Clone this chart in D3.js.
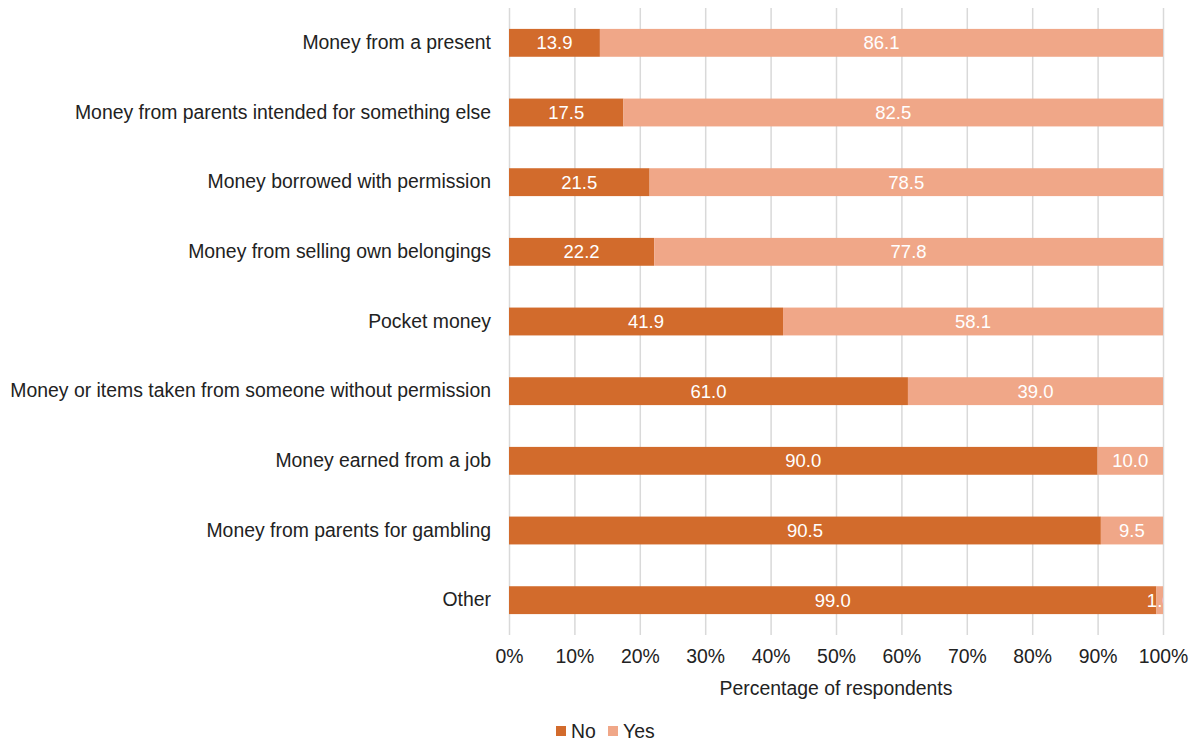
<!DOCTYPE html>
<html><head><meta charset="utf-8">
<script src="https://cdn.jsdelivr.net/npm/d3@7"></script>
<style>body{margin:0;background:#fff}svg{display:block}text{font-family:"Liberation Sans",Arial,sans-serif}</style>
</head><body><svg id="c" width="1196" height="743"></svg>
<script>
const categories = ["Money from a present","Money from parents intended for something else","Money borrowed with permission","Money from selling own belongings","Pocket money","Money or items taken from someone without permission","Money earned from a job","Money from parents for gambling","Other"];
const noValues = [13.9,17.5,21.5,22.2,41.9,61.0,90.0,90.5,99.0];
const yesValues = [86.1,82.5,78.5,77.8,58.1,39.0,10.0,9.5,1.0];
const seriesNames = ["No","Yes"];
const tickValues = [0,10,20,30,40,50,60,70,80,90,100];
const colors = {No:"#D26B2C", Yes:"#F0A788"};

(function(){
const svg = d3.select("#c");
const pL = 509, pR = 1163, pT = 8, pB = 635;
const FS = 19.4;
const x = d3.scaleLinear().domain([0,100]).range([pL,pR]);
const y = d3.scaleBand().domain(categories).range([pT,pB]).paddingInner(0.6).paddingOuter(0.3);

svg.append("defs").append("clipPath").attr("id","plot").append("rect")
  .attr("x",pL).attr("y",pT).attr("width",pR-pL).attr("height",pB-pT);

const xAxis = d3.axisBottom(x).tickValues(tickValues).tickFormat(d=>d+"%").tickSize(-(pB-pT)).tickPadding(18);
const gx = svg.append("g").attr("transform",`translate(0,${pB})`).call(xAxis);
gx.select(".domain").remove();
gx.selectAll(".tick line").attr("stroke","#d9d9d9").attr("stroke-width",1.5);
gx.selectAll(".tick text").attr("font-size",FS).attr("fill","#222").attr("dy","0.5em");

const yAxis = d3.axisLeft(y).tickSize(0).tickPadding(18);
const gy = svg.append("g").attr("transform",`translate(${pL},0)`).call(yAxis);
gy.select(".domain").remove();
gy.selectAll(".tick text").attr("font-size",FS).attr("fill","#222");

const data = categories.map((c,i)=>({cat:c, No:noValues[i], Yes:yesValues[i]}));
const stack = d3.stack().keys(seriesNames)(data);

const gBars = svg.append("g").attr("clip-path","url(#plot)");
stack.forEach(s=>{
  const g = gBars.append("g");
  g.selectAll("rect").data(s).join("rect")
    .attr("x",d=>x(d[0])).attr("y",d=>y(d.data.cat))
    .attr("width",d=>x(d[1])-x(d[0])).attr("height",y.bandwidth())
    .attr("fill",colors[s.key]);
  g.selectAll("text").data(s).join("text")
    .attr("x",d=>(x(d[0])+x(d[1]))/2).attr("y",d=>y(d.data.cat)+y.bandwidth()/2)
    .attr("text-anchor","middle").attr("dy","0.36em")
    .attr("font-size",18.5).attr("fill","#fff")
    .text(d=>(d[1]-d[0]).toFixed(1));
});

svg.append("text").attr("x",(pL+pR)/2).attr("y",695).attr("text-anchor","middle")
  .attr("font-size",FS).attr("fill","#222").text("Percentage of respondents");

const leg = svg.append("g");
const legX = [556, 608];
seriesNames.forEach((n,i)=>{
  leg.append("rect").attr("x",legX[i]).attr("y",726).attr("width",10).attr("height",10).attr("fill",colors[n]);
  leg.append("text").attr("x",legX[i]+15).attr("y",738).attr("font-size",FS).attr("fill","#222").text(n);
});
})();
</script></body></html>
